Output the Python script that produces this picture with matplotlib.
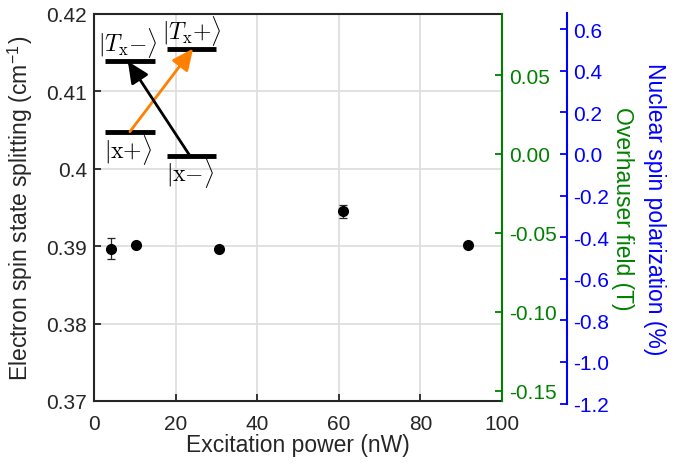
import matplotlib
matplotlib.use("Agg")
import matplotlib.pyplot as plt
from matplotlib.patches import FancyArrowPatch

plt.rcParams['font.family'] = ['Liberation Sans', 'DejaVu Sans']
plt.rcParams['axes.unicode_minus'] = False
plt.rcParams['mathtext.fontset'] = 'cm'

# ---- data ----
power_nW = [4.2, 10.3, 30.6, 61.1, 91.6]
splitting = [0.3897, 0.3902, 0.3896, 0.3945, 0.3902]
splitting_err = [0.0014, 0.0003, 0.0002, 0.0008, 0.0002]

x_ticks = [0, 20, 40, 60, 80, 100]
y_ticks = [0.37, 0.38, 0.39, 0.40, 0.41, 0.42]
y_ticklabels = ['0.37', '0.38', '0.39', '0.4', '0.41', '0.42']
field_ticks = [-0.15, -0.10, -0.05, 0.00, 0.05]
pol_ticks = [-1.2, -1.0, -0.8, -0.6, -0.4, -0.2, 0.0, 0.2, 0.4, 0.6]

# inset level diagram (data coordinates of main axes)
lvl_Tm = ((2.7, 14.95), 0.41389)
lvl_Tp = ((17.9, 29.9), 0.41554)
lvl_xp = ((2.7, 14.95), 0.4048)
lvl_xm = ((17.9, 29.9), 0.40169)

GREEN = '#008000'
BLUE = '#0000FF'
ORANGE = '#FF8000'
DARK = '#262626'

W, H = 681, 464
fig = plt.figure(figsize=(W / 100, H / 100), dpi=100)

L, R, T, B = 94, 502, 15, 402
ax = fig.add_axes([L / W, 1 - B / H, (R - L) / W, (B - T) / H])
ax.set_xlim(0, 100)
ax.set_ylim(0.37, 0.42)
ax.set_xticks(x_ticks)
ax.set_yticks(y_ticks)
ax.set_yticklabels(y_ticklabels)
ax.grid(True, color='#dedede', linewidth=1.3)
ax.set_axisbelow(True)
ax.tick_params(direction='in', length=5, width=1.3, labelsize=15, colors=DARK, right=True, pad=5)
ax.tick_params(axis='x', pad=9)
for s in ['left', 'bottom', 'top']:
    ax.spines[s].set_color(DARK)
    ax.spines[s].set_linewidth(1.5)
ax.spines['right'].set_visible(False)

ax.errorbar(power_nW, splitting, yerr=splitting_err, fmt='o', color='black',
            markersize=7, ecolor=DARK, elinewidth=0.9, capsize=3, capthick=0.9, zorder=5)

ax.set_xlabel('Excitation power (nW)', fontsize=16.5, color=DARK)
ax.xaxis.set_label_coords(0.5, -0.112)
ax.xaxis.label.set_va('center')
ax.set_ylabel('Electron spin state splitting (cm$^{\\mathregular{-1}}$)', fontsize=16.5, color=DARK, va='center')
ax.yaxis.set_label_coords(-0.181, 0.5)

# inset diagram
for (x0, x1), y in [lvl_Tm, lvl_Tp, lvl_xp, lvl_xm]:
    ax.plot([x0, x1], [y, y], color='black', lw=3.5, solid_capstyle='butt', zorder=6)

astyle = '-|>,head_length=0.65,head_width=0.3'
ax.add_patch(FancyArrowPatch((8.8, lvl_xp[1]), (24.3, lvl_Tp[1]), arrowstyle=astyle,
                             mutation_scale=20, color=ORANGE, lw=2, zorder=7, shrinkA=0, shrinkB=0))
ax.add_patch(FancyArrowPatch((23.5, lvl_xm[1]), (8.3, lvl_Tm[1]), arrowstyle=astyle,
                             mutation_scale=20, color='black', lw=2, zorder=7, shrinkA=0, shrinkB=0))

tkw = dict(fontsize=17, ha='center', va='center', zorder=8)
ax.text(8.3, 0.41644, r'$|T_{\mathrm{x}}{-}\rangle$', **tkw)
ax.text(24.0, 0.41787, r'$|T_{\mathrm{x}}{+}\rangle$', **tkw)
ax.text(8.3, 0.4026, r'$|\mathrm{x}{+}\rangle$', **tkw)
ax.text(23.5, 0.39963, r'$|\mathrm{x}{-}\rangle$', **tkw)

# green axis (Overhauser field)
ax2 = ax.twinx()
ax2.set_ylim(-(B - 155) / 1578, (155 - T) / 1578)
ax2.set_yticks(field_ticks)
ax2.set_yticklabels([f'{v:.2f}' for v in field_ticks])
for s in ['left', 'bottom', 'top']:
    ax2.spines[s].set_visible(False)
ax2.spines['right'].set_color(GREEN)
ax2.spines['right'].set_linewidth(1.5)
ax2.tick_params(axis='y', direction='in', length=5, width=1.3, labelsize=15, colors=GREEN, pad=5)
ax2.set_ylabel('Overhauser field (T)', fontsize=16.5, color=GREEN, rotation=270, va='center')
ax2.yaxis.set_label_coords((623 - L) / (R - L), 0.5)

# blue axis (nuclear spin polarization)
BT, BB = 14, 405
ax3 = fig.add_axes([L / W, 1 - BB / H, (R - L) / W, (BB - BT) / H])
ax3.patch.set_visible(False)
ax3.set_ylim(-(BB - 155) / 208, (155 - BT) / 208)
ax3.set_xticks([])
for s in ['left', 'bottom', 'top']:
    ax3.spines[s].set_visible(False)
ax3.yaxis.tick_right()
ax3.yaxis.set_label_position('right')
ax3.spines['right'].set_position(('axes', (566.5 - L) / (R - L)))
ax3.spines['right'].set_color(BLUE)
ax3.spines['right'].set_linewidth(1.5)
ax3.set_yticks(pol_ticks)
ax3.set_yticklabels([f'{v:.1f}' for v in pol_ticks])
ax3.tick_params(axis='y', direction='in', length=5, width=1.3, labelsize=15, colors=BLUE, pad=5)
ax3.set_ylabel('Nuclear spin polarization (%)', fontsize=16.5, color=BLUE, rotation=270, va='center')
ax3.yaxis.set_label_coords((655 - L) / (R - L), 0.5)

fig.savefig('out.png', dpi=100)
